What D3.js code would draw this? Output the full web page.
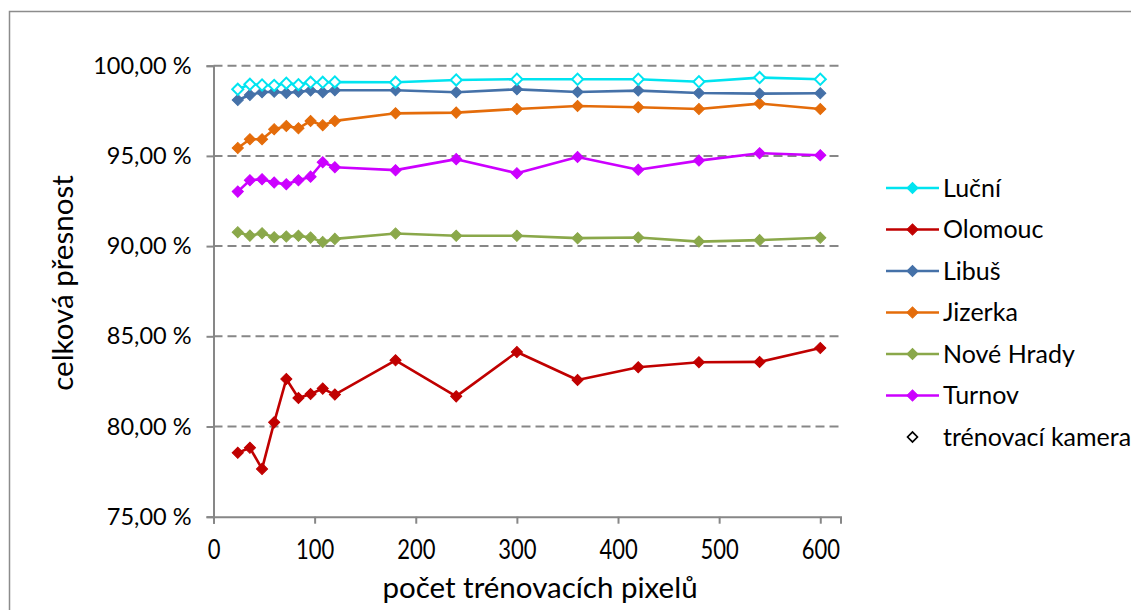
<!DOCTYPE html>
<html><head><meta charset="utf-8">
<script src="https://cdn.jsdelivr.net/npm/d3@7"></script>
<style>
html,body{margin:0;padding:0;background:#fff;}
text{font-family:Lato,"Open Sans",sans-serif;fill:#000;}
</style></head>
<body>
<svg id="chart" width="1131" height="610"></svg>
<script>
const xValues = [24,36,48,60,72,84,96,108,120,180,240,300,360,420,480,540,600];
const lucni   = [98.69,98.97,98.93,98.91,99.03,98.95,99.08,99.08,99.10,99.08,99.21,99.25,99.25,99.25,99.11,99.34,99.25];
const olomouc = [78.54,78.82,77.65,80.23,82.63,81.58,81.80,82.10,81.77,83.67,81.67,84.13,82.58,83.28,83.56,83.58,84.35];
const libus   = [98.10,98.38,98.53,98.56,98.49,98.56,98.62,98.53,98.64,98.64,98.53,98.69,98.54,98.62,98.49,98.45,98.47];
const jizerka = [95.44,95.92,95.92,96.48,96.66,96.53,96.94,96.70,96.94,97.36,97.40,97.60,97.77,97.70,97.60,97.90,97.60];
const noveHrady = [90.77,90.58,90.71,90.49,90.53,90.57,90.47,90.23,90.40,90.70,90.57,90.57,90.44,90.48,90.25,90.33,90.46];
const turnov  = [93.02,93.65,93.71,93.52,93.43,93.65,93.85,94.65,94.37,94.21,94.82,94.04,94.94,94.23,94.74,95.15,95.04];
const seriesNames = ["Luční","Olomouc","Libuš","Jizerka","Nové Hrady","Turnov"];
const seriesColors = ["#00E4F0","#C00000","#4571A8","#E46C0A","#8AA84A","#CC00FF"];
const trainingSeries = "Luční";
const trainingLabel = "trénovací kamera";
const xTicks = [0,100,200,300,400,500,600];
const yTicks = [75,80,85,90,95,100];
const xTitle = "počet trénovacích pixelů";
const yTitle = "celková přesnost";

const seriesValues = [lucni, olomouc, libus, jizerka, noveHrady, turnov];
const series = seriesNames.map((n,i)=>({name:n,color:seriesColors[i],
  pts:xValues.map((x,j)=>({x, y:seriesValues[i][j]}))}));

const svg = d3.select("#chart");
// outer border
svg.append("path").attr("d","M9.5,610 L9.5,11.5 L1131,11.5")
  .attr("fill","none").attr("stroke","#8c8c8c").attr("stroke-width",1.5);

const L=213.5, R=840.5, T=65.7, B=516.7;
const x = d3.scaleLinear().domain([0,620]).range([L,R]);
const y = d3.scaleLinear().domain([75,100]).range([B,T]);

// gridlines
svg.append("g").selectAll("line").data(yTicks.filter(v=>v>75)).join("line")
  .attr("x1",L).attr("x2",R).attr("y1",d=>y(d)).attr("y2",d=>y(d))
  .attr("stroke","#878787").attr("stroke-width",2).attr("stroke-dasharray","9,5");

const fmt = v => v.toFixed(2).replace(".",",")+" %";
const yAxis = svg.append("g").attr("transform",`translate(${L},0)`)
  .call(d3.axisLeft(y).tickValues(yTicks).tickSize(7).tickPadding(15).tickFormat(fmt));
const xAxis = svg.append("g").attr("transform",`translate(0,${B})`)
  .call(d3.axisBottom(x).tickValues(xTicks).tickSize(7).tickPadding(12).tickFormat(d3.format("d")));
[yAxis,xAxis].forEach(a=>{
  a.select(".domain").attr("stroke","#878787").attr("stroke-width",2);
  a.selectAll(".tick line").attr("stroke","#878787").attr("stroke-width",2);
  a.selectAll("text").attr("font-family","Lato,sans-serif").attr("fill","#000");
});
yAxis.selectAll("text").attr("font-size",23.5);
xAxis.selectAll(".tick text").attr("font-size",22).attr("dy",null).attr("y",35)
  .attr("transform","scale(1,1.22)");

// axis titles
svg.append("text").attr("x",540).attr("y",598).attr("text-anchor","middle")
  .attr("font-size",29.5).text(xTitle);
svg.append("text").attr("transform",`translate(73,283) rotate(-90)`)
  .attr("text-anchor","middle").attr("font-size",29.5).text(yTitle);

const line = d3.line().x(d=>x(d.x)).y(d=>y(d.y));
const diamond = d3.symbol().type(d3.symbolSquare).size(62);

const plot = svg.append("g");
// draw in reverse so first series on top
series.slice().reverse().forEach(s=>{
  const g = plot.append("g");
  g.append("path").attr("d",line(s.pts)).attr("fill","none")
    .attr("stroke",s.color).attr("stroke-width",2.6).attr("stroke-linejoin","round");
  const hollow = s.name===trainingSeries;
  g.selectAll("path.m").data(s.pts).join("path").attr("class","m")
    .attr("d",diamond)
    .attr("transform",d=>`translate(${x(d.x)},${y(d.y)}) rotate(45)`)
    .attr("fill",hollow?"#fff":s.color)
    .attr("stroke",s.color).attr("stroke-width",hollow?2:1);
});

// legend
const lg = svg.append("g");
const legY0 = 188, legDy = 41.5;
series.forEach((s,i)=>{
  const yy = legY0 + i*legDy;
  lg.append("line").attr("x1",886).attr("x2",939).attr("y1",yy).attr("y2",yy)
    .attr("stroke",s.color).attr("stroke-width",2.6);
  lg.append("path").attr("d",diamond).attr("transform",`translate(912.5,${yy}) rotate(45)`)
    .attr("fill",s.color).attr("stroke",s.color);
  lg.append("text").attr("x",943).attr("y",yy).attr("dy","0.35em").attr("font-size",25).text(s.name);
});
const ty = legY0 + 6*legDy;
lg.append("path").attr("d",d3.symbol().type(d3.symbolSquare).size(50))
  .attr("transform",`translate(912.5,${ty}) rotate(45)`)
  .attr("fill","#fff").attr("stroke","#000").attr("stroke-width",1.6);
lg.append("text").attr("x",943).attr("y",ty).attr("dy","0.35em").attr("font-size",25).text(trainingLabel);
</script>
</body></html>
